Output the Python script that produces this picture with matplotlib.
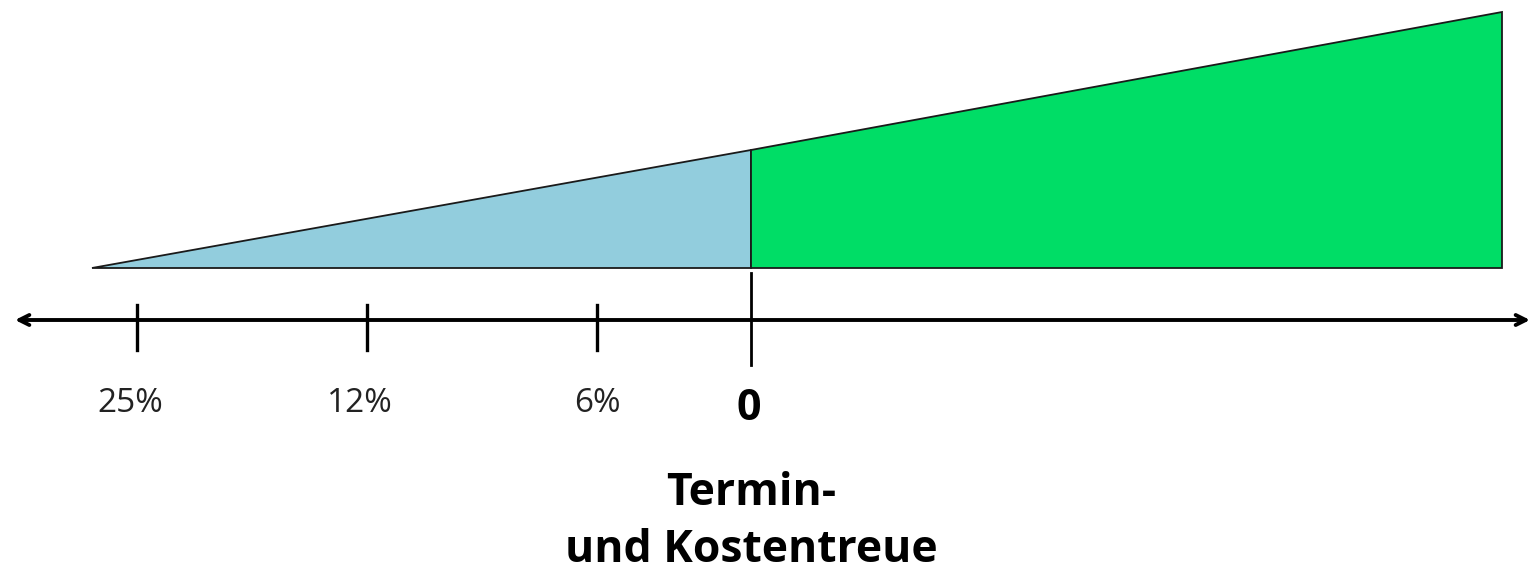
import matplotlib.pyplot as plt

# wedge outline (x, top edge), baseline is flat
wedge_x = [92, 751, 1502]
wedge_top = [268, 150, 12]
base_y = 268

# axis and ticks
axis_y = 320
axis_left, axis_right = 15, 1530
tick_x = [137, 367, 597]
tick_labels = ["25%", "12%", "6%"]
label_x = [130, 360, 597]
zero_x = 751
zero_label = "0"
title_lines = ["Termin-", "und Kostentreue"]

fig = plt.figure(figsize=(15.33, 5.77), dpi=100)
ax = fig.add_axes([0, 0, 1, 1])
ax.set_xlim(0, 1533)
ax.set_ylim(577, 0)
ax.axis("off")

# light blue part (left of zero), green part (right of zero)
ax.fill([wedge_x[0], wedge_x[1], wedge_x[1]], [base_y, wedge_top[1], base_y],
        facecolor="#92CDDD", edgecolor="#1a1a1a", lw=1.3, zorder=2)
ax.fill([wedge_x[1], wedge_x[2], wedge_x[2], wedge_x[1]],
        [wedge_top[1], wedge_top[2], base_y, base_y],
        facecolor="#00DD66", edgecolor="#1a1a1a", lw=1.3, zorder=2)

# double arrow axis
ax.annotate("", xy=(axis_left, axis_y), xytext=(axis_right, axis_y),
            arrowprops=dict(arrowstyle="<->", lw=2.8, color="black",
                            mutation_scale=18, shrinkA=0, shrinkB=0))

for x in tick_x:
    ax.plot([x, x], [305, 350], color="black", lw=2.4)
ax.plot([zero_x, zero_x], [273, 365], color="black", lw=2.0)

for x, t in zip(label_x, tick_labels):
    ax.text(x, 412, t, ha="center", va="baseline", fontsize=24,
            family="Open Sans", color="#222222")
ax.text(zero_x - 2, 420, zero_label, ha="center", va="baseline", fontsize=31,
        family="Open Sans", fontweight="bold")
for y, line in zip([505, 562], title_lines):
    ax.text(zero_x, y, line, ha="center", va="baseline", fontsize=32,
            family="Open Sans", fontweight="bold")

fig.savefig("out.png", dpi=100)
